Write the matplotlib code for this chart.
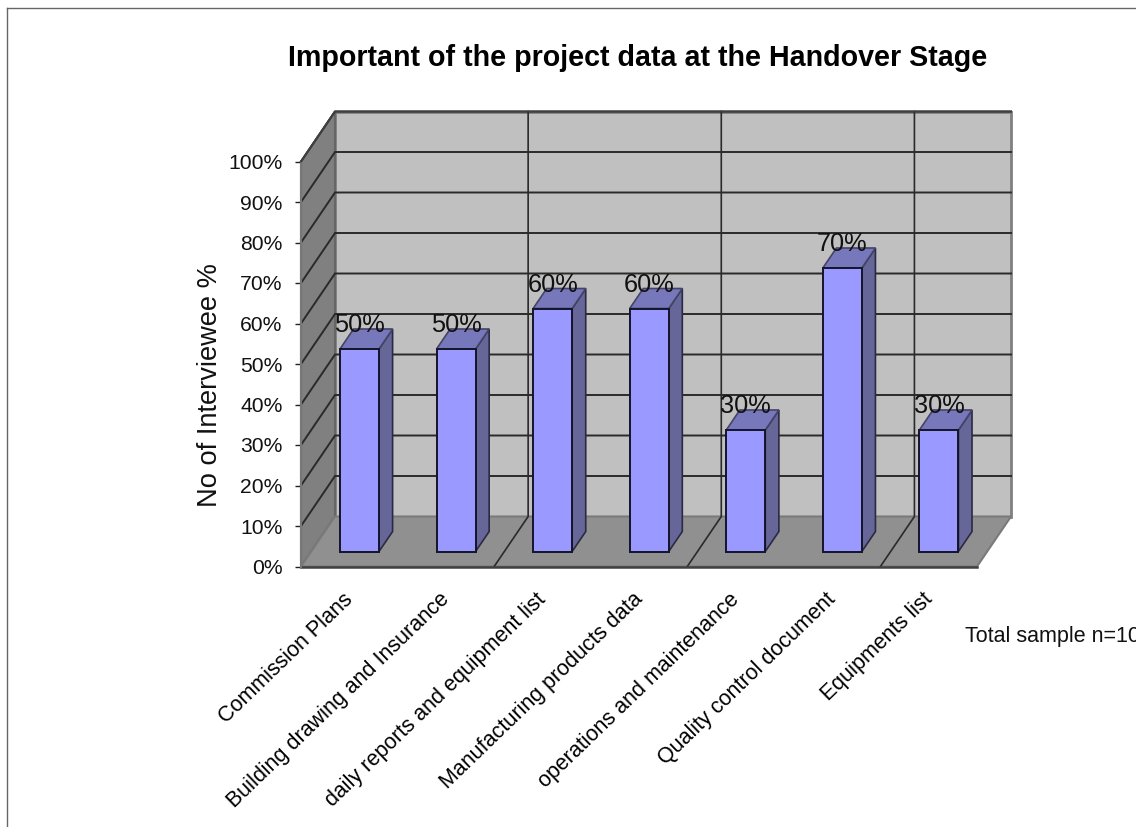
import matplotlib
matplotlib.use('Agg')
import matplotlib.pyplot as plt
from matplotlib.lines import Line2D
from matplotlib.patches import Polygon

plt.rcParams['font.family'] = ['Liberation Sans', 'DejaVu Sans']

categories = ['Commission Plans', 'Building drawing and Insurance',
              'daily reports and equipment list', 'Manufacturing products data',
              'operations and maintenance', 'Quality control document',
              'Equipments list']
values = [50, 50, 60, 60, 30, 70, 30]
y_ticks = list(range(0, 101, 10))
y_tick_labels = [str(v) + '%' for v in y_ticks]

W, H = 1136, 827
fig = plt.figure(figsize=(W / 100, H / 100), dpi=100, facecolor='white')

# front plane of the fake 3d box, everything else is sheared off it
left, right, y0, y100 = 301, 977, 566.5, 161.5
ax = fig.add_axes([left / W, 1 - y0 / H, (right - left) / W, (y0 - y100) / H])
ax.set_xlim(0, len(categories))
ax.set_ylim(0, 100)
ax.patch.set_visible(False)
for s in ax.spines.values():
    s.set_visible(False)

# depth of the box in data units (34 px right, 50 px up)
DX = 34 / ((right - left) / len(categories))
DY = 50 / ((y0 - y100) / 100)
n = len(categories)


def pt(x, y, d):
    return (x + d * DX, y + d * DY)


def face(points, color, edge='#6a6a6a', lw=1.2, z=1):
    ax.add_patch(Polygon([pt(*p) for p in points], closed=True, facecolor=color,
                         edgecolor=edge, linewidth=lw, clip_on=False, zorder=z))


# walls and floor
face([(0, 0, 1), (n, 0, 1), (n, 100, 1), (0, 100, 1)], '#c0c0c0', edge='#808080', lw=2)
face([(0, 0, 0), (0, 0, 1), (0, 100, 1), (0, 100, 0)], '#808080', edge='#666666', lw=1.5)
face([(0, 0, 0), (n, 0, 0), (n, 0, 1), (0, 0, 1)], '#909090', edge='#7a7a7a', lw=1.5)

# gridlines
grid_color = '#2a2a2a'
for v in y_ticks[1:]:
    xs, ys = zip(pt(0, v, 0), pt(0, v, 1), pt(n, v, 1))
    ax.plot(xs, ys, color=grid_color, lw=1.4, clip_on=False, zorder=2,
            solid_joinstyle='miter')
for c in range(2, n, 2):
    xs, ys = zip(pt(c, 0, 0), pt(c, 0, 1), pt(c, 100, 1))
    ax.plot(xs, ys, color=grid_color, lw=1.2, clip_on=False, zorder=2,
            solid_joinstyle='miter')
ax.plot([0, n], [0, 0], color='#404040', lw=1.8, clip_on=False, zorder=2)
ax.plot([0, 0], [0, 100], color='#777777', lw=1.5, clip_on=False, zorder=2)
xs, ys = zip(pt(0, 100, 0), pt(0, 100, 1), pt(n, 100, 1))
ax.plot(xs, ys, color='#404040', lw=1.4, clip_on=False, zorder=2)

# bars
bw = 0.404
d0, d1 = 0.3, 0.7
for i, v in enumerate(values):
    x0 = i + 0.5 - bw / 2
    x1 = x0 + bw
    face([(x1, 0, d0), (x1, 0, d1), (x1, v, d1), (x1, v, d0)], '#666699', edge='#2a2a44', z=3)
    face([(x0, v, d0), (x1, v, d0), (x1, v, d1), (x0, v, d1)], '#7777bb', edge='#444466', z=3)
    face([(x0, 0, d0), (x1, 0, d0), (x1, v, d0), (x0, v, d0)], '#9999ff', edge='#14142a', lw=1.4, z=4)
    ax.annotate(str(v) + '%', xy=pt(i + 0.5, v, d0), xytext=(0, 12),
                textcoords='offset points', ha='center', va='baseline',
                fontsize=18.3, color='#111111', zorder=6, annotation_clip=False)

ax.set_yticks(y_ticks)
ax.set_yticklabels(y_tick_labels, fontsize=15.2, color='#111111')
ax.tick_params(axis='y', length=4.3, width=1, pad=9, color='#222222')
# labels end a little left of the category centre
ax.set_xticks([i + 0.5 - 0.07 for i in range(n)])
ax.set_xticklabels(categories, fontsize=15.5, rotation=44, ha='right', va='top',
                   rotation_mode='anchor')
ax.tick_params(axis='x', length=0, pad=16)
ax.set_ylabel('No of Interviewee %', fontsize=19.6, va='center', color='#111111')
ax.yaxis.set_label_coords(-0.1346, 0.447)

fig.text(638 / W, 1 - 58 / H, 'Important of the project data at the Handover Stage',
         fontsize=20.6, fontweight='bold', ha='center', va='center')
fig.text(965 / W, 1 - 642 / H, 'Total sample n=10', fontsize=15.5, ha='left', va='baseline',
         color='#111111')

# chart border, only top and left are in the frame
fig.add_artist(Line2D([7 / W, 1], [1 - 8 / H, 1 - 8 / H], color='#666666', lw=1))
fig.add_artist(Line2D([7 / W, 7 / W], [0, 1 - 8 / H], color='#666666', lw=1))

fig.savefig('out.png', dpi=100)
